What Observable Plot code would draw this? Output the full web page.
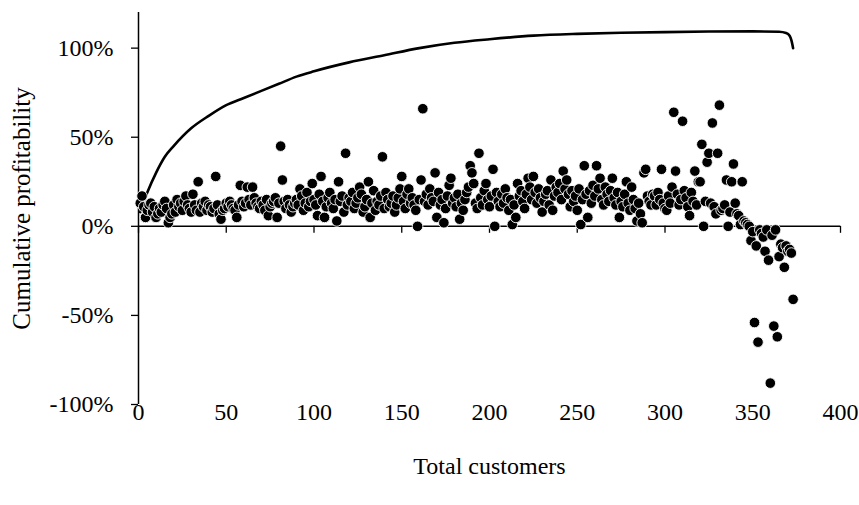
<!DOCTYPE html>
<html>
<head>
<meta charset="utf-8">
<script src="https://cdn.jsdelivr.net/npm/d3@7"></script>
<script src="https://cdn.jsdelivr.net/npm/@observablehq/plot@0.6"></script>
<style>
  html, body { margin: 0; padding: 0; background: #fff; }
</style>
</head>
<body>
<div id="chart"></div>
<script>
// Individual customer profitability (%), customers 1..373 in rank order
const customerProfit = [
  13, 17, 11, 5, 9, 12, 13, 8, 11, 5,
  7, 10, 8, 12, 14, 10, 2, 5, 7, 12,
  8, 15, 11, 13, 9, 14, 17, 12, 10, 8,
  18, 12, 9, 25, 8, 13, 11, 14, 9, 12,
  11, 8, 10, 28, 12, 7, 4, 9, 10, 13,
  11, 14, 12, 10, 9, 5, 12, 23, 14, 11,
  13, 22, 15, 12, 22, 16, 13, 11, 10, 14,
  12, 9, 15, 6, 11, 13, 14, 16, 5, 13,
  45, 26, 14, 10, 15, 12, 8, 11, 13, 15,
  12, 21, 17, 9, 13, 19, 11, 14, 24, 15,
  12, 6, 18, 28, 14, 5, 11, 16, 19, 13,
  10, 15, 3, 25, 14, 17, 8, 41, 12, 16,
  14, 19, 10, 13, 16, 22, 18, 8, 11, 15,
  25, 5, 13, 20, 9, 14, 12, 17, 39, 10,
  19, 15, 11, 13, 17, 8, 12, 16, 21, 28,
  14, 10, 18, 21, 13, 16, 12, 9, 0, 15,
  26, 66, 14, 18, 12, 21, 16, 14, 30, 5,
  19, 12, 15, 2, 10, 17, 23, 27, 13, 16,
  11, 18, 4, 13, 9, 15, 19, 22, 34, 30,
  24, 13, 10, 41, 16, 12, 20, 24, 15, 11,
  17, 32, 0, 19, 14, 11, 18, 13, 21, 16,
  9, 15, 1, 12, 5, 24, 17, 20, 14, 10,
  18, 27, 22, 15, 28, 19, 13, 21, 16, 8,
  14, 18, 20, 12, 26, 9, 17, 22, 19, 24,
  15, 31, 21, 26, 18, 11, 20, 14, 17, 9,
  21, 1, 15, 34, 18, 5, 20, 13, 23, 17,
  34, 21, 27, 15, 12, 22, 18, 14, 20, 27,
  16, 12, 19, 5, 14, 11, 18, 25, 13, 9,
  22, 15, 10, 3, 13, 7, 2, 30, 32, 17,
  14, 12, 18, 17, 12, 19, 15, 32, 13, 10,
  9, 17, 13, 22, 64, 31, 18, 12, 15, 59,
  20, 16, 11, 6, 19, 14, 31, 12, 25, 25,
  46, 0, 14, 36, 41, 13, 58, 11, 7, 41,
  68, 9, 10, 12, 26, 0, 8, 25, 35, 13,
  7, 6, 1, 25, 3, 2, 1, 0, -8, -3,
  -54, -11, -65, -2, -4, -6, -14, -2, -19, -88,
  -5, -56, -2, -62, -17, -10, -12, -23, -11, -14,
  -13, -15, -41
];

// Cumulative profitability curve (whale curve), read at selected customer counts
const curveCustomers = [1, 3, 5, 10, 15, 20, 30, 40, 50, 60, 70, 80, 90, 100, 120, 140, 160, 180, 200, 225, 250, 275, 300, 325, 350, 365, 369, 371, 372, 373];
const curveProfit    = [8, 14, 19, 30, 39, 45, 55, 62, 68, 72, 76, 80, 84, 87, 92, 96, 100, 103, 105, 107, 108, 108.6, 109, 109.3, 109.4, 109.2, 108.5, 107, 104.5, 100];

const xTicks = [0, 50, 100, 150, 200, 250, 300, 350, 400];
const yTicks = [-100, -50, 0, 50, 100];
const xTitle = "Total customers";
const yTitle = "Cumulative profitability";

const points = customerProfit.map((v, i) => ({customers: i + 1, profit: v / 100}));
const curve = curveCustomers.map((c, i) => ({customers: c, profit: curveProfit[i] / 100}));

const fmtPct = d => `${Math.round(d * 100)}%`;

const chart = Plot.plot({
  width: 859,
  height: 505,
  marginLeft: 138,
  marginRight: 19,
  marginTop: 12,
  marginBottom: 101,
  style: {fontFamily: "'Liberation Serif', 'Times New Roman', serif", fontSize: "24px", color: "#000", background: "#fff"},
  x: {domain: [0, 400]},
  y: {domain: [-1, 1.2]},
  marks: [
    Plot.axisY(yTicks.map(d => d / 100), {
      tickFormat: fmtPct, tickSize: 7, tickPadding: 18, stroke: "#000", strokeWidth: 1.3,
      fontSize: 24, label: null
    }),
    Plot.axisY({
      ticks: [], label: yTitle, labelAnchor: "center", labelArrow: "none", labelOffset: 126, fontSize: 25
    }),
    Plot.axisX(xTicks, {
      tickSize: 0, tickPadding: -2, fontSize: 24, label: xTitle, labelAnchor: "center", labelArrow: "none", labelOffset: 69
    }),
    Plot.ruleX(xTicks, {x: d => d, y1: () => 0, y2: () => 0, insetBottom: -7, stroke: "#000", strokeWidth: 1.3}),
    Plot.ruleX([0], {stroke: "#000", strokeWidth: 1.5}),
    Plot.ruleY([0], {stroke: "#000", strokeWidth: 1.5}),
    Plot.line(curve, {x: "customers", y: "profit", curve: "monotone-x", stroke: "#000", strokeWidth: 2.6}),
    Plot.dot(points, {x: "customers", y: "profit", r: 5.3, fill: "#000", stroke: "#fff", strokeWidth: 0.9})
  ]
});
document.getElementById("chart").appendChild(chart);
</script>
</body>
</html>
